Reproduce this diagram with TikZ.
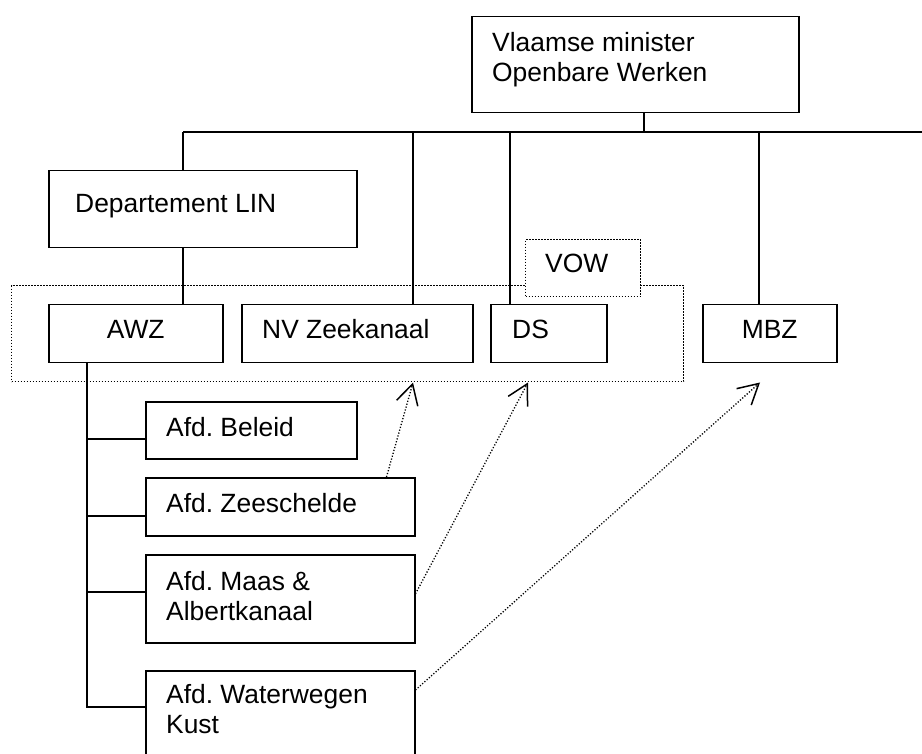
\documentclass[tikz,border=0pt]{standalone}
\usepackage{fontspec}
\setmainfont{Liberation Sans}
\frenchspacing
\usetikzlibrary{arrows.meta}
\tikzset{
  vak/.style={draw, line width=1.5pt, anchor=north west, inner sep=0pt},
  tekst/.style={anchor=base west, inner sep=0pt, align=left, font=\fontsize{26.4pt}{30pt}\selectfont},
  lijn/.style={line width=1.5pt},
  stippel/.style={line width=1.3pt, dash pattern=on 1.2pt off 1.8pt},
  pijl/.style={stippel, -{Straight Barb[length=20pt, width=22pt, line width=1.5pt]}}
}
\begin{document}
\begin{tikzpicture}[x=1pt, y=-1pt]
\useasboundingbox (0,0) rectangle (922,754);

% kader rond VOW
\node[vak, stippel, minimum width=672pt, minimum height=96pt] (zone) at (11,285) {};

% vakken
\node[vak, minimum width=327pt, minimum height=96pt] (top) at (471,16) {};
\node[vak, minimum width=308pt, minimum height=77pt] (dep) at (48,170) {};
\node[vak, minimum width=174pt, minimum height=58pt] (awz) at (48,304) {};
\node[vak, minimum width=231pt, minimum height=58pt] (nv) at (241,304) {};
\node[vak, minimum width=116pt, minimum height=58pt] (ds) at (490,304) {};
\node[vak, minimum width=134pt, minimum height=58pt] (mbz) at (702,304) {};
\node[vak, stippel, fill=white, minimum width=115pt, minimum height=57pt] (vow) at (525,239) {};
\node[vak, minimum width=211pt, minimum height=57pt] (bel) at (145,401) {};
\node[vak, minimum width=269pt, minimum height=58pt] (zee) at (145,477) {};
\node[vak, minimum width=269pt, minimum height=88pt] (maas) at (145,554) {};
\node[vak, minimum width=269pt, minimum height=100pt] (ww) at (145,670) {};

% teksten (bij twee regels telt de basislijn van de laatste regel)
\node[tekst] (topt) at ([shift={(21,66)}]top.north west) {Vlaamse minister\\Openbare Werken};
\node[tekst] (dept) at ([shift={(27,43)}]dep.north west) {Departement LIN};
\node[tekst, anchor=base] (awzt) at ([shift={(0,35)}]awz.north) {AWZ};
\node[tekst] (nvt) at ([shift={(21,35)}]nv.north west) {NV Zeekanaal};
\node[tekst] (dst) at ([shift={(22,35)}]ds.north west) {DS};
\node[tekst, anchor=base] (mbzt) at ([shift={(0,35)}]mbz.north) {MBZ};
\node[tekst] (vowt) at ([shift={(20,34)}]vow.north west) {VOW};
\node[tekst] (belt) at ([shift={(21,35)}]bel.north west) {Afd. Beleid};
\node[tekst] (zeet) at ([shift={(21,35)}]zee.north west) {Afd. Zeeschelde};
\node[tekst] (maast) at ([shift={(21,66)}]maas.north west) {Afd. Maas \&\\Albertkanaal};
\node[tekst] (wwt) at ([shift={(21,63)}]ww.north west) {Afd. Waterwegen\\Kust};

% hierarchie
\coordinate (busl) at (183,132);
\coordinate (busr) at (922,132);
\coordinate (knoop) at ([shift={(173,0)}]top.south west);
\draw[lijn] (busl) -- (busr);
\draw[lijn] (knoop) -- (knoop |- busl);
\foreach \x/\n in {183/dep, 413/nv, 510/ds, 759/mbz}
  \draw[lijn] (\x,132) -- (\x,132 |- \n.north);
\draw[lijn] (183,132 |- dep.south) -- (183,132 |- awz.north);

\coordinate (stam) at ([shift={(39,0)}]awz.south west);
\foreach \n/\d in {bel/38, zee/39, maas/38, ww/37}
  \draw[lijn] ([shift={(0,\d)}]\n.north west) -| (stam);

% overgang naar nieuwe structuur
\draw[pijl] ([shift={(-29,0)}]zee.north east) -- ([shift={(172,19)}]nv.south west);
\draw[pijl] ([shift={(0,-5)}]maas.east) -- ([shift={(38,19)}]ds.south west);
\draw[pijl] ([shift={(0,20)}]ww.north east) -- ([shift={(58,19)}]mbz.south west);
\end{tikzpicture}
\end{document}
